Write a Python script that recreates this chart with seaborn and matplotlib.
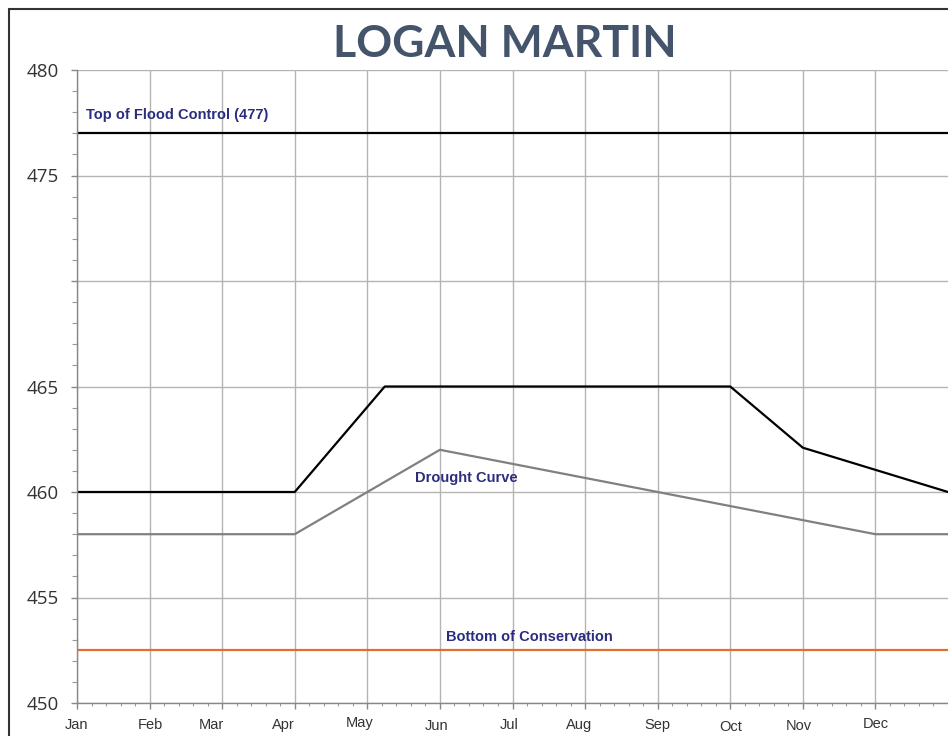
import numpy as np
import pandas as pd
import matplotlib
matplotlib.use("Agg")
import matplotlib.pyplot as plt
import matplotlib.transforms as mtransforms
from matplotlib.lines import Line2D
from matplotlib.ticker import MultipleLocator
import seaborn as sns

# data (x in months since Jan 1)
months = ["Jan", "Feb", "Mar", "Apr", "May", "Jun",
          "Jul", "Aug", "Sep", "Oct", "Nov", "Dec"]
rule_x = [0, 3, 4.24, 9, 10, 12]
rule_y = [460, 460, 465, 465, 462.1, 460]
drought_x = [0, 3, 5, 11, 12]
drought_y = [458, 458, 462, 458, 458]
flood_top = 477
cons_bottom = 452.5

y_ticks = [450, 455, 460, 465, 470, 475, 480]
y_labels = ["450", "455", "460", "465", "", "475", "480"]

# small label offsets (px, right / down) seen in the original's month labels
lab_dx = [0, 1, -11, -11, -7.5, -3, -3, -5.5, 0, 0, -4, 0]
lab_dy = [0, 0, 0, 0.5, -2, 1, 0, 0, 0, 2.5, 1, -0.5]

rule = pd.DataFrame({"x": rule_x, "y": rule_y})
drought = pd.DataFrame({"x": drought_x, "y": drought_y})
flat = pd.DataFrame({"x": [0, 12], "flood": [flood_top] * 2, "cons": [cons_bottom] * 2})

sns.set_style("white")
plt.rcParams["font.family"] = ["Liberation Sans", "DejaVu Sans"]

fig = plt.figure(figsize=(9.48, 7.36), dpi=100)
ax = fig.add_axes([77 / 948, 33 / 736, 871 / 948, 633 / 736])

grid_c = "#b4b4b4"
ax.set_axisbelow(True)
ax.grid(True, which="major", color=grid_c, lw=1)

sns.lineplot(data=flat, x="x", y="flood", ax=ax, color="black", lw=1.6)
sns.lineplot(data=flat, x="x", y="cons", ax=ax, color="#e0702e", lw=1.6)
sns.lineplot(data=drought, x="x", y="y", ax=ax, color="#808080", lw=1.6)
sns.lineplot(data=rule, x="x", y="y", ax=ax, color="black", lw=1.6)

ax.set_xlim(0, 12)
ax.set_ylim(450, 480)
ax.set_xlabel("")
ax.set_ylabel("")

ax.set_xticks(range(12))
ax.set_xticklabels(months, fontsize=10.5, color="#333333")
ax.xaxis.set_minor_locator(MultipleLocator(0.2))
ax.set_yticks(y_ticks)
ax.set_yticklabels(y_labels, fontsize=13.5, color="#333333", family="Open Sans")
ax.yaxis.set_minor_locator(MultipleLocator(1))

ax.tick_params(axis="x", which="major", direction="out", length=4, width=1,
               color="#888888", pad=6.5, bottom=True)
ax.tick_params(axis="x", which="minor", direction="out", length=2.2, width=0.8,
               color="#999999", bottom=True)
ax.tick_params(axis="y", which="major", direction="out", length=4.3, width=1,
               color="#888888", pad=9, left=True)
ax.tick_params(axis="y", which="minor", direction="out", length=3.6, width=0.8,
               color="#999999", left=True)

for side in ["top", "right"]:
    ax.spines[side].set_visible(False)
for side in ["left", "bottom"]:
    ax.spines[side].set_color("#888888")
    ax.spines[side].set_linewidth(1)

for lab, dx, dy in zip(ax.get_xticklabels(), lab_dx, lab_dy):
    off = mtransforms.ScaledTranslation(dx / 100, -dy / 100, fig.dpi_scale_trans)
    lab.set_transform(lab.get_transform() + off)

navy = "#2b2d7e"
ax.text(0.12, 477.85, "Top of Flood Control (477)", color=navy, fontsize=10.5,
        fontweight="bold", ha="left", va="center")
ax.text(5.37, 460.65, "Drought Curve", color=navy, fontsize=10.5,
        fontweight="bold", ha="center", va="center")
ax.text(6.226, 453.14, "Bottom of Conservation", color=navy, fontsize=10.5,
        fontweight="bold", ha="center", va="center")

fig.text(0.532, 1 - 57 / 736, "LOGAN MARTIN", family="Lato", fontweight="bold",
         fontsize=32, color="#44546a", ha="center", va="baseline")

# outer frame (cropped at right and bottom)
fy = 1 - 8.5 / 736
fx = 8.5 / 948
fig.add_artist(Line2D([fx, fx], [0, fy], transform=fig.transFigure, color="#333333", lw=1.5))
fig.add_artist(Line2D([fx, 1], [fy, fy], transform=fig.transFigure, color="#333333", lw=1.5))

fig.savefig("out.png", dpi=100)
